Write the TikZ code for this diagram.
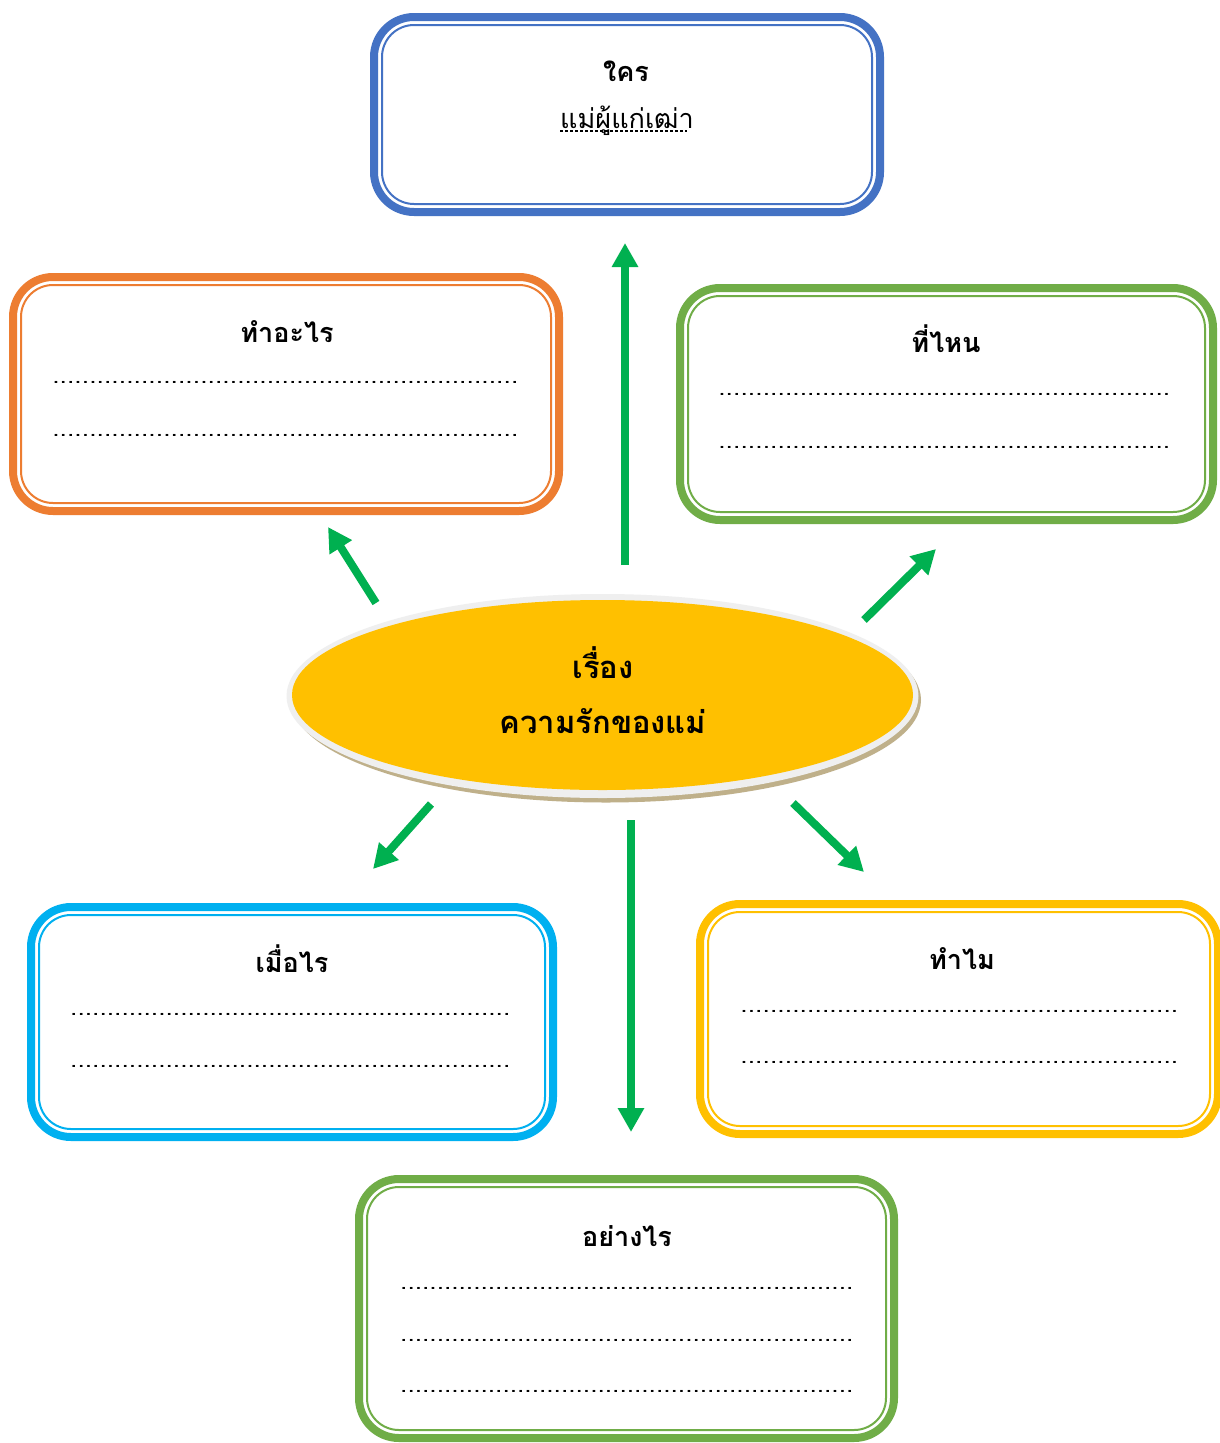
\documentclass[tikz,border=0pt]{standalone}
\usepackage{fontspec}
\setmainfont[Script=Thai]{Loma}
\usetikzlibrary{arrows.meta,shapes.geometric}
\definecolor{qblue}{HTML}{4472C4}
\definecolor{qorange}{HTML}{ED7D31}
\definecolor{qgreen}{HTML}{70AD47}
\definecolor{qcyan}{HTML}{00B0F0}
\definecolor{qgold}{HTML}{FFC000}
\definecolor{qarrow}{HTML}{00B050}
\definecolor{qrim}{HTML}{EFEFEF}
\definecolor{qshadow}{HTML}{BFB08A}
\newcommand\dotrow[1]{\hbox to #1{\xleaders\hbox to 7.3pt{\hss.\hss}\hfill}}
\begin{document}
\begin{tikzpicture}[x=1pt,y=-1pt,
  qbox/.style={draw=#1, line width=8pt, rounded corners=40pt, inner sep=0pt, outer sep=0pt, fill=white},
  qinner/.style={draw=#1, line width=2pt, rounded corners=32pt},
  qtitle/.style={anchor=base, inner sep=0pt, font=\fontsize{27}{30}\selectfont\bfseries},
  qtext/.style={anchor=base, inner sep=0pt, font=\fontsize{27}{30}\selectfont},
  qdots/.style={anchor=base west, inner sep=0pt, font=\fontsize{19}{22}\selectfont\bfseries},
  qarr/.style={draw=qarrow, line width=8pt, -{Triangle[width=25pt,length=24pt]}},
  qstory/.style={anchor=base, inner sep=0pt, font=\fontsize{31}{34}\selectfont\bfseries}]
\useasboundingbox (0,0) rectangle (1219,1443);
\fill[white] (0,0) rectangle (1219,1443);

% boxes
\node[qbox=qblue, minimum width=506pt, minimum height=195pt] (who) at (627,114.5) {};
\node[qbox=qorange, minimum width=546pt, minimum height=234pt] (what) at (286,394) {};
\node[qbox=qgreen, minimum width=533pt, minimum height=232pt] (where) at (946.5,404) {};
\node[qbox=qcyan, minimum width=522pt, minimum height=230pt] (when) at (292,1022) {};
\node[qbox=qgold, minimum width=518pt, minimum height=230pt] (why) at (959,1019) {};
\node[qbox=qgreen, minimum width=535pt, minimum height=259pt] (how) at (626.5,1308.5) {};
\foreach \n/\c in {who/qblue, what/qorange, where/qgreen, when/qcyan, why/qgold, how/qgreen}
  \draw[qinner=\c] ([shift={(8,8)}]\n.north west) rectangle ([shift={(-8,-8)}]\n.south east);

% texts in boxes
\node[qtitle] (whot) at (626,81) {ใคร};
\node[qtext] (whoa) at (627,128) {แม่ผู้แก่เฒ่า};
\draw[black, line width=1.4pt, dash pattern=on 3pt off 2pt] (whoa.base west) ++(0,3) -- ++(127,0);

\node[qtitle] (whatt) at (287,342) {ทำอะไร};
\node[qdots] (whatd1) at (52,383) {\dotrow{466pt}};
\node[qdots] (whatd2) at (52,436) {\dotrow{466pt}};

\node[qtitle] (wheret) at (946,352) {ที่ไหน};
\node[qdots] (whered1) at (718,395) {\dotrow{452pt}};
\node[qdots] (whered2) at (718,448) {\dotrow{452pt}};

\node[qtitle] (whent) at (292,972) {เมื่อไร};
\node[qdots] (whend1) at (70,1015) {\dotrow{440pt}};
\node[qdots] (whend2) at (70,1067) {\dotrow{440pt}};

\node[qtitle] (whyt) at (962,969) {ทำไม};
\node[qdots] (whyd1) at (740,1012) {\dotrow{438pt}};
\node[qdots] (whyd2) at (740,1063) {\dotrow{438pt}};

\node[qtitle] (howt) at (627,1246) {อย่างไร};
\node[qdots] (howd1) at (400,1289) {\dotrow{453pt}};
\node[qdots] (howd2) at (400,1341) {\dotrow{453pt}};
\node[qdots] (howd3) at (400,1392) {\dotrow{453pt}};

% central ellipse
\node[ellipse, fill=qshadow, minimum width=630pt, minimum height=205pt, inner sep=0pt] (storysh) at (606,700) {};
\node[ellipse, fill=qrim, minimum width=632pt, minimum height=204pt, inner sep=0pt] (storyrim) at (602.5,696) {};
\node[ellipse, fill=qgold, minimum width=621pt, minimum height=190pt, inner sep=0pt] (story) at (602.5,695) {};
\node[qstory] (storyt1) at (603,678) {เรื่อง};
\node[qstory] (storyt2) at (603,733) {ความรักของแม่};

% arrows
\coordinate (aUs) at (625,565);  \coordinate (aUe) at (625,243);
\coordinate (aULs) at (376,603); \coordinate (aULe) at (328,527);
\coordinate (aURs) at (864,620); \coordinate (aURe) at (936,549);
\coordinate (aDLs) at (431,804); \coordinate (aDLe) at (373,869);
\coordinate (aDRs) at (793,803); \coordinate (aDRe) at (864,872);
\coordinate (aDs) at (631,820);  \coordinate (aDe) at (631,1132);
\draw[qarr] (aUs) -- (aUe);
\draw[qarr] (aULs) -- (aULe);
\draw[qarr] (aURs) -- (aURe);
\draw[qarr] (aDLs) -- (aDLe);
\draw[qarr] (aDRs) -- (aDRe);
\draw[qarr] (aDs) -- (aDe);
\end{tikzpicture}
\end{document}
